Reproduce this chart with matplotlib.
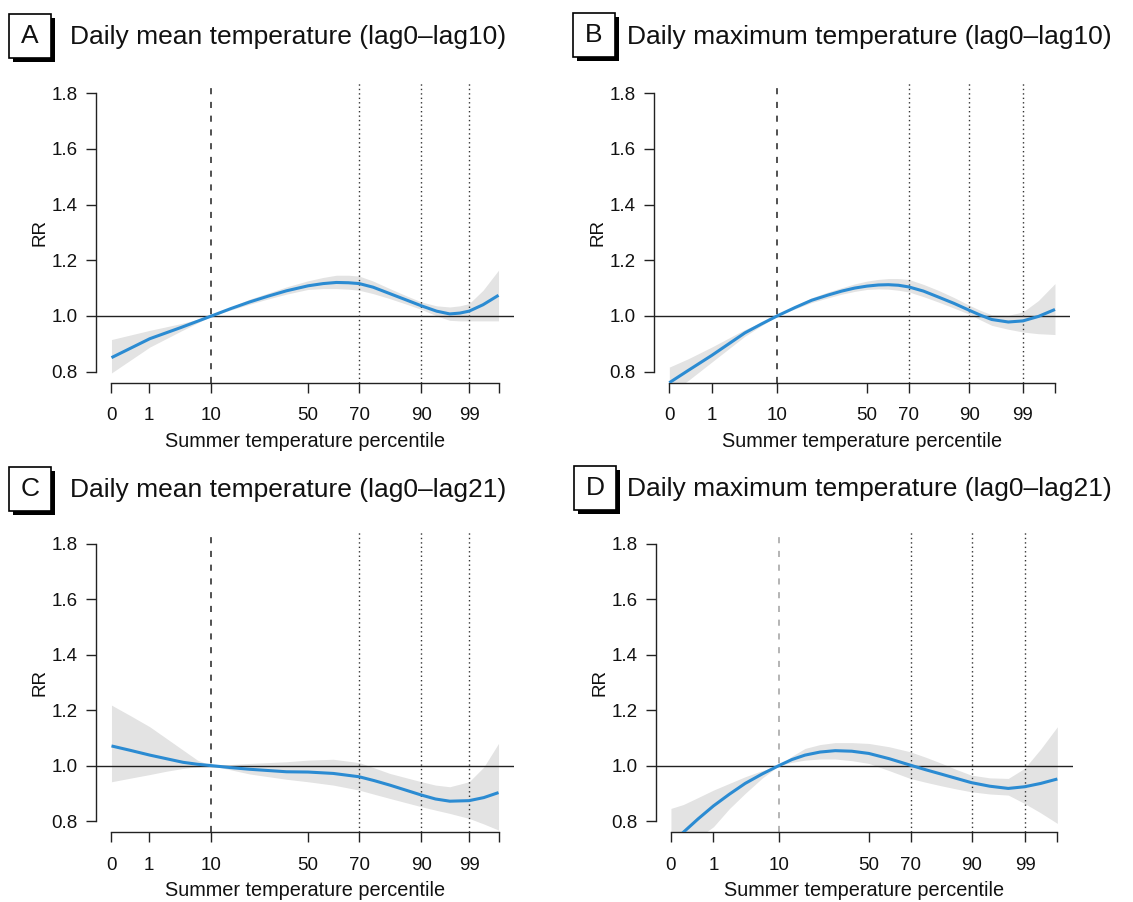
import matplotlib
matplotlib.use("Agg")
import matplotlib.pyplot as plt
from matplotlib.patches import Rectangle

plt.rcParams['font.family'] = ['Liberation Sans', 'DejaVu Sans']

W, H = 1133, 902

# ---------------- data ----------------
tick_labels = ['0', '1', '10', '50', '70', '90', '99', '']
mean_tick_pos = [0, 9.7, 25.8, 50.8, 64.0, 80.1, 92.4, 100]
max_tick_pos = [0, 11.0, 28.0, 51.3, 62.1, 77.8, 91.7, 100]

titles = ['Daily mean temperature (lag0\u2013lag10)',
          'Daily maximum temperature (lag0\u2013lag10)',
          'Daily mean temperature (lag0\u2013lag21)',
          'Daily maximum temperature (lag0\u2013lag21)']
panel_letters = ['A', 'B', 'C', 'D']

xA = [0, 9.9, 17.9, 25.9, 30.8, 35.7, 40.5, 45.2, 50.8, 54.7, 58.1, 61.2, 64.0,
      67.6, 71.9, 76.2, 80.1, 84.0, 87.4, 90.0, 92.4, 96.0, 100]
rrA = [0.850, 0.918, 0.958, 1.0, 1.026, 1.050, 1.071, 1.090, 1.108, 1.116, 1.120, 1.119, 1.116,
       1.103, 1.080, 1.057, 1.036, 1.017, 1.007, 1.010, 1.017, 1.040, 1.074]
loA = [0.795, 0.888, 0.945, 1.0, 1.021, 1.042, 1.061, 1.078, 1.095, 1.098, 1.098, 1.096, 1.092,
       1.080, 1.062, 1.042, 1.023, 1.000, 0.984, 0.982, 0.982, 0.982, 0.982]
hiA = [0.915, 0.948, 0.972, 1.0, 1.031, 1.060, 1.082, 1.104, 1.126, 1.138, 1.146, 1.146, 1.143,
       1.125, 1.098, 1.072, 1.050, 1.036, 1.032, 1.036, 1.044, 1.092, 1.164]

xB = [0, 4.9, 11.0, 19.6, 23.9, 28.0, 32.6, 36.9, 41.2, 44.7, 48.1, 51.3, 54.2, 56.8,
      59.4, 62.1, 65.9, 69.7, 73.8, 77.8, 80.6, 83.6, 87.9, 91.7, 95.7, 100]
rrB = [0.760, 0.804, 0.858, 0.939, 0.971, 1.0, 1.030, 1.056, 1.075, 1.089, 1.100, 1.107, 1.111, 1.112,
       1.110, 1.104, 1.089, 1.068, 1.045, 1.020, 1.003, 0.987, 0.978, 0.982, 0.998, 1.023]
loB = [0.720, 0.768, 0.834, 0.927, 0.965, 1.0, 1.025, 1.048, 1.065, 1.078, 1.088, 1.095, 1.097, 1.096,
       1.092, 1.086, 1.069, 1.050, 1.028, 1.006, 0.986, 0.966, 0.952, 0.942, 0.936, 0.933]
hiB = [0.816, 0.846, 0.888, 0.951, 0.977, 1.0, 1.036, 1.065, 1.086, 1.101, 1.115, 1.125, 1.131, 1.134,
       1.134, 1.131, 1.113, 1.092, 1.066, 1.038, 1.020, 1.004, 1.002, 1.014, 1.055, 1.116]

xC = [0, 4.9, 9.9, 14.2, 18.5, 22.2, 25.9, 30.8, 35.7, 45.2, 50.8, 57.3, 64.0,
      67.9, 71.9, 76.0, 80.1, 83.7, 87.4, 92.4, 96.2, 100]
rrC = [1.071, 1.055, 1.038, 1.025, 1.012, 1.005, 1.0, 0.993, 0.987, 0.978, 0.977, 0.972, 0.960,
       0.946, 0.930, 0.912, 0.894, 0.880, 0.872, 0.874, 0.885, 0.903]
loC = [0.942, 0.955, 0.968, 0.980, 0.990, 0.996, 1.0, 0.985, 0.970, 0.951, 0.942, 0.930, 0.912,
       0.897, 0.882, 0.867, 0.852, 0.840, 0.828, 0.810, 0.790, 0.768]
hiC = [1.218, 1.180, 1.140, 1.098, 1.056, 1.020, 1.0, 1.004, 1.008, 1.014, 1.020, 1.023, 1.011,
       0.992, 0.972, 0.957, 0.942, 0.930, 0.924, 0.942, 0.995, 1.080]

xD = [0, 3.2, 7.0, 11.0, 15.1, 19.2, 23.6, 27.9, 31.3, 34.7, 38.6, 42.5, 46.8, 51.2,
      56.5, 61.9, 66.0, 70.1, 73.9, 77.7, 82.5, 87.3, 91.5, 95.7, 100]
rrD = [0.720, 0.760, 0.808, 0.855, 0.897, 0.936, 0.970, 1.0, 1.022, 1.038, 1.049, 1.054, 1.052, 1.044,
       1.025, 1.002, 0.985, 0.969, 0.954, 0.939, 0.926, 0.918, 0.924, 0.936, 0.952]
loD = [0.680, 0.700, 0.740, 0.780, 0.845, 0.900, 0.955, 1.0, 1.012, 1.020, 1.024, 1.024, 1.018, 1.008,
       0.982, 0.954, 0.940, 0.927, 0.916, 0.906, 0.898, 0.894, 0.864, 0.830, 0.792]
hiD = [0.846, 0.860, 0.885, 0.912, 0.936, 0.960, 0.982, 1.0, 1.034, 1.062, 1.076, 1.083, 1.083, 1.080,
       1.068, 1.050, 1.030, 1.008, 0.986, 0.966, 0.956, 0.954, 0.990, 1.060, 1.140]

panels = [
    (xA, rrA, loA, hiA, mean_tick_pos),
    (xB, rrB, loB, hiB, max_tick_pos),
    (xC, rrC, loC, hiC, mean_tick_pos),
    (xD, rrD, loD, hiD, max_tick_pos),
]
ref_line_colors = ['#222222', '#222222', '#222222', '#a0a0a0']

# ---------------- layout (pixels) ----------------
rects = [(96, 514, 82, 382.7), (653.9, 1070.4, 82, 382.7),
         (96, 514, 532.4, 832.3), (655.5, 1072.8, 532.4, 832.3)]
boxes = [(9, 14), (573, 13), (9, 467), (574, 466)]
title_pos = [(70, 37), (627, 37), (70, 490), (627, 489)]

blue = '#2b8bd2'
band = '#e3e3e3'

fig = plt.figure(figsize=(W / 100, H / 100), dpi=100)

for i, ((x, rr, lo, hi, tpos), (l, r, t, b)) in enumerate(zip(panels, rects)):
    ax = fig.add_axes([l / W, 1 - b / H, (r - l) / W, (b - t) / H])
    ax.set_xlim(-4, 104)
    ax.set_ylim(0.76, 1.84)
    ax.fill_between(x, lo, hi, color=band, lw=0, zorder=1)
    ax.axhline(1.0, color='#222222', lw=1.0, zorder=2)
    # reference (10th percentile) and other percentile markers
    ax.axvline(tpos[2], color=ref_line_colors[i], lw=1.1, ls=(0, (4, 5)), zorder=2)
    for p in (tpos[4], tpos[5], tpos[6]):
        ax.axvline(p, color='#333333', lw=1.0, ls=(0, (1, 2.2)), zorder=2)
    ax.plot(x, rr, color=blue, lw=2.2, zorder=3, solid_capstyle='butt',
            solid_joinstyle='round')

    for s in ('top', 'right'):
        ax.spines[s].set_visible(False)
    ax.spines['left'].set_bounds(0.8, 1.8)
    ax.spines['bottom'].set_bounds(0, 100)
    for s in ('left', 'bottom'):
        ax.spines[s].set_linewidth(1.0)
        ax.spines[s].set_color('#222222')
    ax.set_yticks([0.8, 1.0, 1.2, 1.4, 1.6, 1.8])
    ax.set_yticklabels(['0.8', '1.0', '1.2', '1.4', '1.6', '1.8'])
    ax.set_xticks(tpos)
    ax.set_xticklabels(tick_labels)
    ax.tick_params(axis='both', direction='out', length=7.5, width=1.0,
                   color='#222222', labelsize=13.5, labelcolor='#111111')
    ax.tick_params(axis='x', pad=10)
    ax.tick_params(axis='y', pad=5.5)
    ax.set_xlabel('Summer temperature percentile', fontsize=14.3, color='#111111')
    ax.xaxis.label.set_va('center')
    ax.xaxis.set_label_coords(0.5, -(441 - 382.7) / 300.7)
    ax.set_ylabel('RR', fontsize=13.5, color='#111111')
    ax.yaxis.label.set_va('center')
    ax.yaxis.set_label_coords(-(56) / (r - l), 0.5)

    # panel letter box with shadow
    bx, by = boxes[i]
    bw, bh = 42, 44
    fig.patches.append(Rectangle(((bx + 4) / W, 1 - (by + bh + 4) / H), bw / W, bh / H,
                                 transform=fig.transFigure, facecolor='black',
                                 edgecolor='black', lw=0))
    fig.patches.append(Rectangle((bx / W, 1 - (by + bh) / H), bw / W, bh / H,
                                 transform=fig.transFigure, facecolor='white',
                                 edgecolor='black', lw=1.2))
    fig.text((bx + bw / 2) / W, 1 - (by + bh / 2) / H, panel_letters[i],
             ha='center', va='center', fontsize=19, color='#111111')
    tx, ty = title_pos[i]
    fig.text(tx / W, 1 - ty / H, titles[i], ha='left', va='center',
             fontsize=19, color='#111111')

fig.savefig('out.png', dpi=100)
